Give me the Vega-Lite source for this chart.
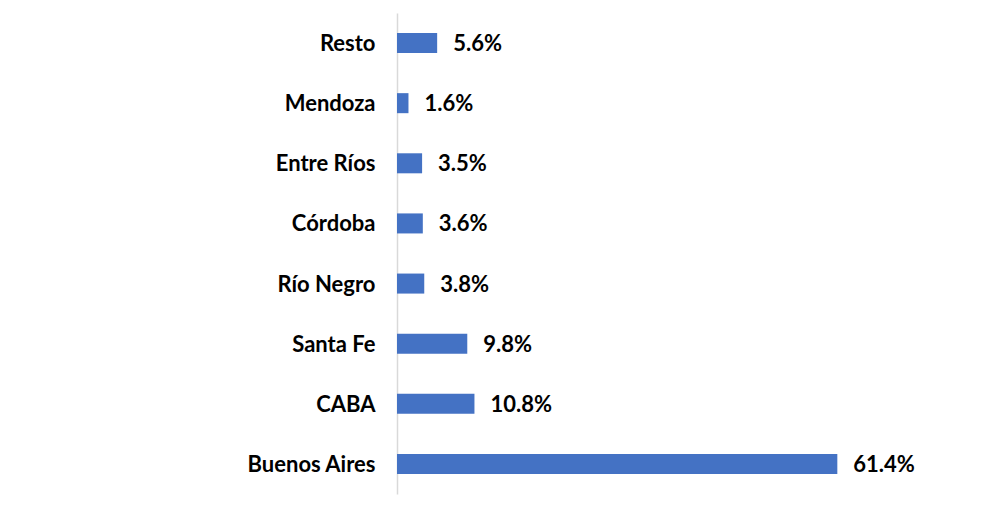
{
  "$schema": "https://vega.github.io/schema/vega-lite/v6.json",
  "autosize": "none",
  "width": 502,
  "height": 481,
  "padding": {"left": 397, "top": 13, "right": 103, "bottom": 24},
  "background": "white",
  "config": {"view": {"stroke": null}},
  "data": {"values": [
    {"region": "Resto", "share": 0.056},
    {"region": "Mendoza", "share": 0.016},
    {"region": "Entre Ríos", "share": 0.035},
    {"region": "Córdoba", "share": 0.036},
    {"region": "Río Negro", "share": 0.038},
    {"region": "Santa Fe", "share": 0.098},
    {"region": "CABA", "share": 0.108},
    {"region": "Buenos Aires", "share": 0.614}
  ]},
  "encoding": {
    "y": {
      "field": "region", "type": "nominal", "sort": null, "title": null,
      "scale": {"paddingInner": 0.667, "paddingOuter": 0.333},
      "axis": {
        "ticks": false, "domainColor": "#d9d9d9", "domainWidth": 1.5,
        "labelFont": "Lato", "labelFontWeight": "bold", "labelFontSize": 22,
        "labelColor": "#000000", "labelPadding": 22, "labelOffset": 1
      }
    },
    "x": {"field": "share", "type": "quantitative", "scale": {"domain": [0, 0.7]}, "axis": null}
  },
  "layer": [
    {"mark": {"type": "bar", "color": "#4472C4"}},
    {
      "mark": {"type": "text", "align": "left", "baseline": "middle", "dx": 16, "dy": 1, "font": "Lato", "fontWeight": "bold", "fontSize": 22, "color": "#000000"},
      "encoding": {"text": {"field": "share", "type": "quantitative", "format": ".1%"}}
    }
  ]
}
